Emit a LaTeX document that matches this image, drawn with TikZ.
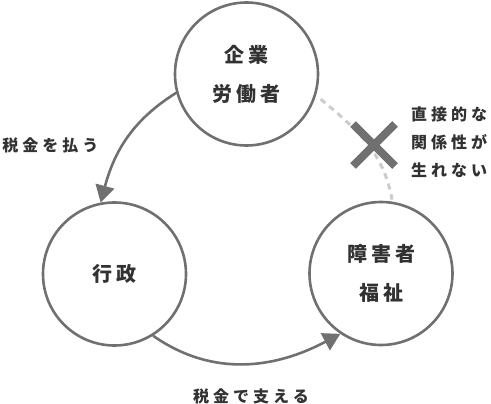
\documentclass[tikz,border=0pt]{standalone}
\usepackage{fontspec}
\setmainfont{Noto Sans CJK JP}
\newfontfamily\circfont[LetterSpace=20]{Noto Sans CJK JP}
\newfontfamily\tagfont[LetterSpace=25]{Noto Sans CJK JP}
\usetikzlibrary{arrows.meta}
\definecolor{ringgray}{RGB}{112,112,112}
\definecolor{textgray}{RGB}{50,50,50}
\definecolor{dashgray}{RGB}{204,204,204}

\begin{document}
\begin{tikzpicture}[x=1pt, y=-1pt,% styles used in image code
         > = {Triangle[length=17pt, width=19pt]},
circ/.style = {circle, draw=ringgray, line width=2.6pt,
               minimum size=143pt, inner sep=0pt, align=center,
               text=textgray,
               font={\circfont\bfseries\fontsize{20}{39}\selectfont}},
flow/.style = {->, draw=ringgray, line width=2.6pt},
tag/.style  = {text=textgray, inner sep=0pt, align=left,
               font={\tagfont\bfseries\fontsize{16}{28}\selectfont}}
                    ]
	\useasboundingbox (0,0) rectangle (491,404);

	% the three parties
	\node[circ] (firm)  at (246.5,74)  {企業\\労働者};
	\node[circ] (gov)   at (114.5,274) {行政};
	\node[circ] (care)  at (381,273.5) {障害者\\福祉};

	% money flows
	\draw[flow] (firm.195) to[out=212, in=75] (gov.101)
	     node[tag, anchor=west] at (1,145) {税金を払う};
	\draw[flow] (gov.-58) to[out=-35, in=208] (care.236)
	     node[tag] at (251,396) {税金で支える};

	% missing link
	\draw[dashgray, line width=3pt, dash pattern=on 6pt off 5pt,
	      shorten <=6pt, shorten >=2pt]
	     (firm.-17) to[out=-40, in=100] (care.81);
	\coordinate (cross) at (374,145);
	\draw[ringgray, line width=8pt] (cross) ++(-21,-21) -- ++(42,42)
	                                (cross) ++(21,-21) -- ++(-42,42);
	\node[tag, anchor=west] (nolink) at (411,142.5) {直接的な\\関係性が\\生れない};
\end{tikzpicture}
\end{document}
